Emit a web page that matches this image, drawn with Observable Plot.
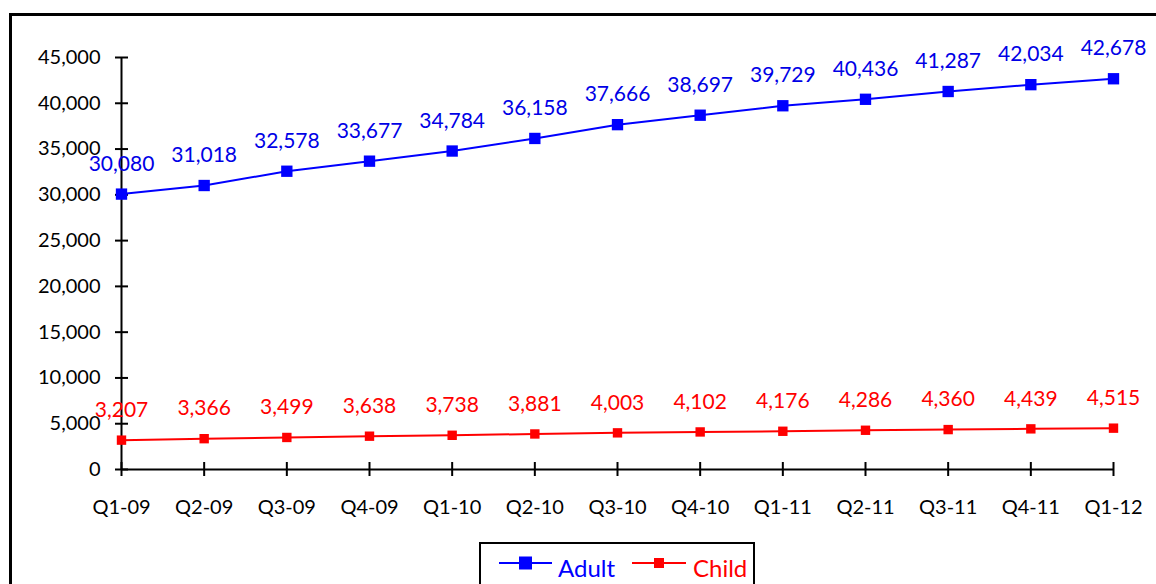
<!DOCTYPE html>
<html>
<head>
<meta charset="utf-8">
<script src="https://cdn.jsdelivr.net/npm/d3@7"></script>
<script src="https://cdn.jsdelivr.net/npm/@observablehq/plot@0.6"></script>
<style>
  html, body { margin: 0; padding: 0; background: #fff; overflow: hidden; }
  #page { position: relative; width: 1156px; height: 584px; overflow: hidden; font-family: Lato, sans-serif; }
  #frame { position: absolute; left: 9px; top: 13px; width: 1300px; height: 700px; border: 3px solid #000; box-sizing: border-box; }
  #chart { position: absolute; left: 0; top: 0; }
  #legend { position: absolute; left: 0; top: 0; }
</style>
</head>
<body>
<div id="page">
  <div id="frame"></div>
  <div id="chart"></div>
  <svg id="legend" width="1156" height="584"></svg>
</div>
<script>
const quarters = ["Q1-09","Q2-09","Q3-09","Q4-09","Q1-10","Q2-10","Q3-10","Q4-10","Q1-11","Q2-11","Q3-11","Q4-11","Q1-12"];
const adult = [30080,31018,32578,33677,34784,36158,37666,38697,39729,40436,41287,42034,42678];
const child = [3207,3366,3499,3638,3738,3881,4003,4102,4176,4286,4360,4439,4515];
const seriesNames = ["Adult","Child"];
const yTicks = [0,5000,10000,15000,20000,25000,30000,35000,40000,45000];

const BLUE = "#0000ff", RED = "#ff0000";
const fmt = d3.format(",");

const adultRows = quarters.map((q,i) => ({q, v: adult[i]}));
const childRows = quarters.map((q,i) => ({q, v: child[i]}));

const chart = Plot.plot({
  width: 1156,
  height: 530,
  marginLeft: 121,
  marginRight: 43,
  marginTop: 57,
  marginBottom: 61,
  x: {type: "point", domain: quarters, padding: 0, inset: 0, round: false},
  y: {domain: [0, 45000], inset: 0},
  style: {fontFamily: "Lato", fontSize: "20px", color: "#000", background: "transparent", overflow: "visible"},
  marks: [
    Plot.ruleX([quarters[0]], {stroke: "#000", strokeWidth: 2}),
    Plot.ruleY([0], {stroke: "#000", strokeWidth: 2}),
    Plot.axisY({ticks: yTicks, tickSize: 13, dx: 7, tickPadding: 15, tickFormat: fmt, label: null, strokeWidth: 2, fill: "#000"}),
    Plot.axisX({tickSize: 14, dy: -7, tickPadding: 23, label: null, strokeWidth: 2, fill: "#000"}),
    Plot.line(adultRows, {x: "q", y: "v", stroke: BLUE, strokeWidth: 2}),
    Plot.line(childRows, {x: "q", y: "v", stroke: RED, strokeWidth: 2}),
    Plot.dot(adultRows, {x: "q", y: "v", symbol: "square", r: 6.4, fill: BLUE, stroke: null}),
    Plot.dot(childRows, {x: "q", y: "v", symbol: "square", r: 5.3, fill: RED, stroke: null}),
    Plot.text(adultRows, {x: "q", y: "v", text: d => fmt(d.v), dy: -30, fill: "#0000e6", fontSize: 21, lineAnchor: "middle"}),
    Plot.text(childRows, {x: "q", y: "v", text: d => fmt(d.v), dy: -30, fill: "#ff0000", fontSize: 21, lineAnchor: "middle"})
  ]
});
document.getElementById("chart").appendChild(chart);

// Legend
const lg = d3.select("#legend");
lg.append("rect").attr("x", 480).attr("y", 543).attr("width", 274).attr("height", 60)
  .attr("fill", "#fff").attr("stroke", "#000").attr("stroke-width", 2);
const items = [
  {name: seriesNames[0], color: BLUE, x1: 499, x2: 552, s: 13, tx: 558},
  {name: seriesNames[1], color: RED, x1: 632, x2: 686, s: 10, tx: 693}
];
items.forEach(it => {
  lg.append("line").attr("x1", it.x1).attr("x2", it.x2).attr("y1", 563).attr("y2", 563)
    .attr("stroke", it.color).attr("stroke-width", 2);
  const cx = (it.x1 + it.x2) / 2;
  lg.append("rect").attr("x", cx - it.s/2).attr("y", 563 - it.s/2).attr("width", it.s).attr("height", it.s).attr("fill", it.color);
  lg.append("text").attr("x", it.tx).attr("y", 577).attr("fill", it.color)
    .attr("font-family", "Lato").attr("font-size", 24).text(it.name);
});
</script>
</body>
</html>
